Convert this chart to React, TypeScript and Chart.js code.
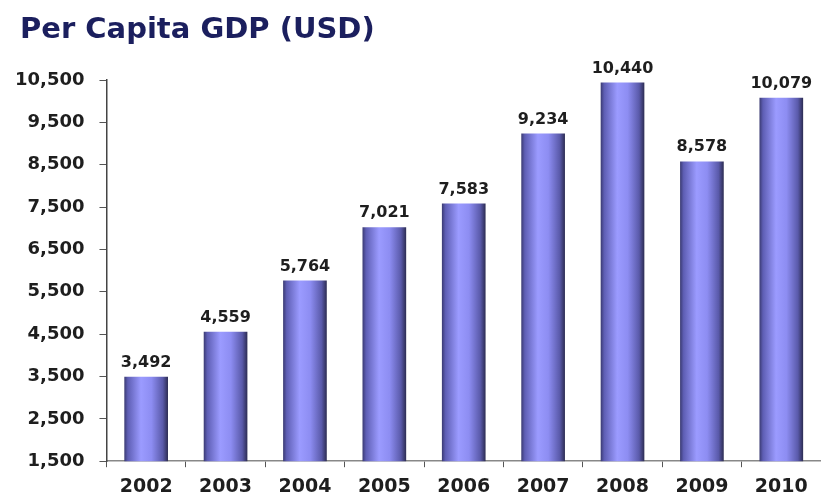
import React, { useEffect, useRef } from "react";
import { Chart, registerables } from "chart.js";

Chart.register(...registerables);

const years = ["2002", "2003", "2004", "2005", "2006", "2007", "2008", "2009", "2010"];
const gdpValues = [3492, 4559, 5764, 7021, 7583, 9234, 10440, 8578, 10079];
const yMin = 1500;
const yMax = 10500;
const yStep = 1000;
const titleText = "Per Capita GDP (USD)";

const FONT = "'DejaVu Sans', Arial, sans-serif";
const BAR_PCT = 0.55;

const titlePlugin = {
  id: "leftTitle",
  afterDraw(chart: any) {
    const ctx = chart.ctx;
    ctx.save();
    ctx.font = `bold 29px ${FONT}`;
    ctx.fillStyle = "#1b1f5e";
    ctx.textAlign = "left";
    ctx.textBaseline = "middle";
    ctx.fillText(titleText, 20, 30);
    ctx.restore();
  },
};

const valueLabelPlugin = {
  id: "valueLabels",
  afterDatasetsDraw(chart: any) {
    const ctx = chart.ctx;
    const meta = chart.getDatasetMeta(0);
    ctx.save();
    ctx.font = `bold 16px ${FONT}`;
    ctx.fillStyle = "#1e1e1e";
    ctx.textAlign = "center";
    ctx.textBaseline = "alphabetic";
    meta.data.forEach((bar: any, i: number) => {
      const v = gdpValues[i];
      ctx.fillText(v.toLocaleString("en-US"), bar.x, bar.y - 10);
    });
    ctx.restore();
  },
};

function barGradient(context: any) {
  const chart = context.chart;
  const { chartArea, scales } = chart;
  if (!chartArea || !scales.x) return "#8c8cf0";
  const cx = scales.x.getPixelForValue(context.dataIndex);
  const w = (chartArea.width / years.length) * BAR_PCT;
  const g = chart.ctx.createLinearGradient(cx - w / 2, 0, cx + w / 2, 0);
  g.addColorStop(0, "#3a3a72");
  g.addColorStop(0.08, "#5e5eb4");
  g.addColorStop(0.38, "#9b9bff");
  g.addColorStop(0.62, "#8d8df2");
  g.addColorStop(0.88, "#5a5aaa");
  g.addColorStop(1, "#2c2c52");
  return g;
}

export default function App() {
  const ref = useRef<HTMLCanvasElement | null>(null);

  useEffect(() => {
    document.body.style.margin = "0";
    document.body.style.overflow = "hidden";
    const chart = new Chart(ref.current as HTMLCanvasElement, {
      type: "bar",
      data: {
        labels: years,
        datasets: [
          {
            data: gdpValues,
            backgroundColor: barGradient as any,
            borderWidth: 0,
            barPercentage: BAR_PCT,
            categoryPercentage: 1,
          },
        ],
      },
      options: {
        animation: false,
        responsive: false,
        maintainAspectRatio: false,
        layout: { padding: { left: 0, right: 0, top: 80, bottom: -8 } },
        plugins: {
          legend: { display: false },
          tooltip: { enabled: false },
          title: { display: false },
        },
        scales: {
          x: {
            grid: {
              display: true,
              drawOnChartArea: false,
              drawTicks: true,
              tickLength: 6,
              color: "#555",
              offset: true,
            },
            border: { display: true, color: "#888", width: 1.5 },
            ticks: {
              color: "#1e1e1e",
              padding: 8,
              font: { family: FONT, size: 19, weight: "bold" },
            },
          },
          y: {
            min: yMin,
            max: yMax,
            grid: {
              display: true,
              drawOnChartArea: false,
              drawTicks: true,
              tickLength: 7,
              color: "#555",
            },
            border: { display: true, color: "#444", width: 1.5 },
            ticks: {
              stepSize: yStep,
              color: "#1e1e1e",
              padding: 15,
              font: { family: FONT, size: 18, weight: "bold" },
              callback: (v: any) => Number(v).toLocaleString("en-US"),
            },
          },
        },
      },
      plugins: [valueLabelPlugin, titlePlugin],
    });
    return () => chart.destroy();
  }, []);

  return (
    <div style={{ position: "absolute", left: 0, top: 0, width: 821, height: 498, background: "#fff" }}>
      <canvas ref={ref} width={821} height={498} style={{ display: "block" }} />
    </div>
  );
}
